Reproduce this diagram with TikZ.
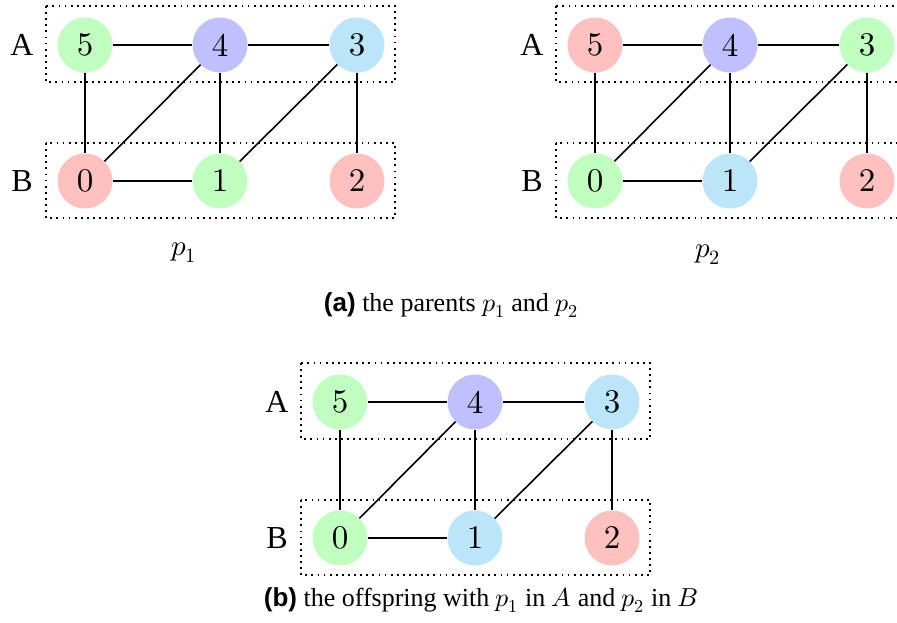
\documentclass[tikz,border=0pt]{standalone}
\usepackage{fontspec}
\setmainfont{Liberation Serif}
\newfontfamily\capsans{Liberation Sans}
\usepackage{unicode-math}
\setmathfont{Latin Modern Math}
\newfontfamily\lmdigits{lmroman10-regular.otf}
\definecolor{cgreen}{RGB}{192,255,192}
\definecolor{cpurple}{RGB}{192,192,255}
\definecolor{cblue}{RGB}{187,230,250}
\definecolor{cred}{RGB}{255,192,192}
\tikzset{
  vtx/.style={circle,minimum size=55pt,inner sep=0pt,font=\fontsize{33}{36}\selectfont\lmdigits},
  edge/.style={line width=1.6pt},
  group/.style={line width=1.8pt,dash pattern=on 1.8pt off 4.3pt},
  side/.style={font=\fontsize{32}{36}\selectfont},
  sub/.style={font=\fontsize{29}{32}\selectfont},
  capt/.style={font=\fontsize{26}{30}\selectfont},
}
\newcommand{\graphpic}[9]{%
  % #1 prefix, #2 xoff, #3 yoff, #4..#9 colours of 5,4,3,0,1,2
  \begin{scope}[shift={(#2,#3)}]
    \draw[group] (46,6) rectangle (395,82);
    \draw[group] (46,143) rectangle (395,218);
    \node[side] (#1lA) at (22,45) {A};
    \node[side] (#1lB) at (22,181) {B};
    \node[vtx,fill=#4] (#15) at (85,45) {5};
    \node[vtx,fill=#5] (#14) at (220,45) {4};
    \node[vtx,fill=#6] (#13) at (357,45) {3};
    \node[vtx,fill=#7] (#10) at (85,181) {0};
    \node[vtx,fill=#8] (#11) at (220,181) {1};
    \node[vtx,fill=#9] (#12) at (357,181) {2};
    \draw[edge] (#15) -- (#14);
    \draw[edge] (#14) -- (#13);
    \draw[edge] (#15) -- (#10);
    \draw[edge] (#14) -- (#10);
    \draw[edge] (#14) -- (#11);
    \draw[edge] (#13) -- (#11);
    \draw[edge] (#13) -- (#12);
    \draw[edge] (#10) -- (#11);
  \end{scope}}
\begin{document}
\begin{tikzpicture}[x=1pt,y=-1pt]
\useasboundingbox (0,0) rectangle (897,622);
\graphpic{a}{0}{0}{cgreen}{cpurple}{cblue}{cred}{cgreen}{cred}
\graphpic{b}{510}{0}{cred}{cpurple}{cgreen}{cgreen}{cblue}{cred}
\graphpic{c}{255}{357}{cgreen}{cpurple}{cblue}{cgreen}{cblue}{cred}
\node[sub] (p1) at (184,253) {$p_1$};
\node[sub] (p2) at (708,255) {$p_2$};
\node[capt] (capa) at (451,305) {{\capsans\bfseries (a)} the parents $p_1$ and $p_2$};
\node[capt] (capb) at (481,600) {{\capsans\bfseries (b)} the offspring with $p_1$ in $A$ and $p_2$ in $B$};
\end{tikzpicture}
\end{document}
